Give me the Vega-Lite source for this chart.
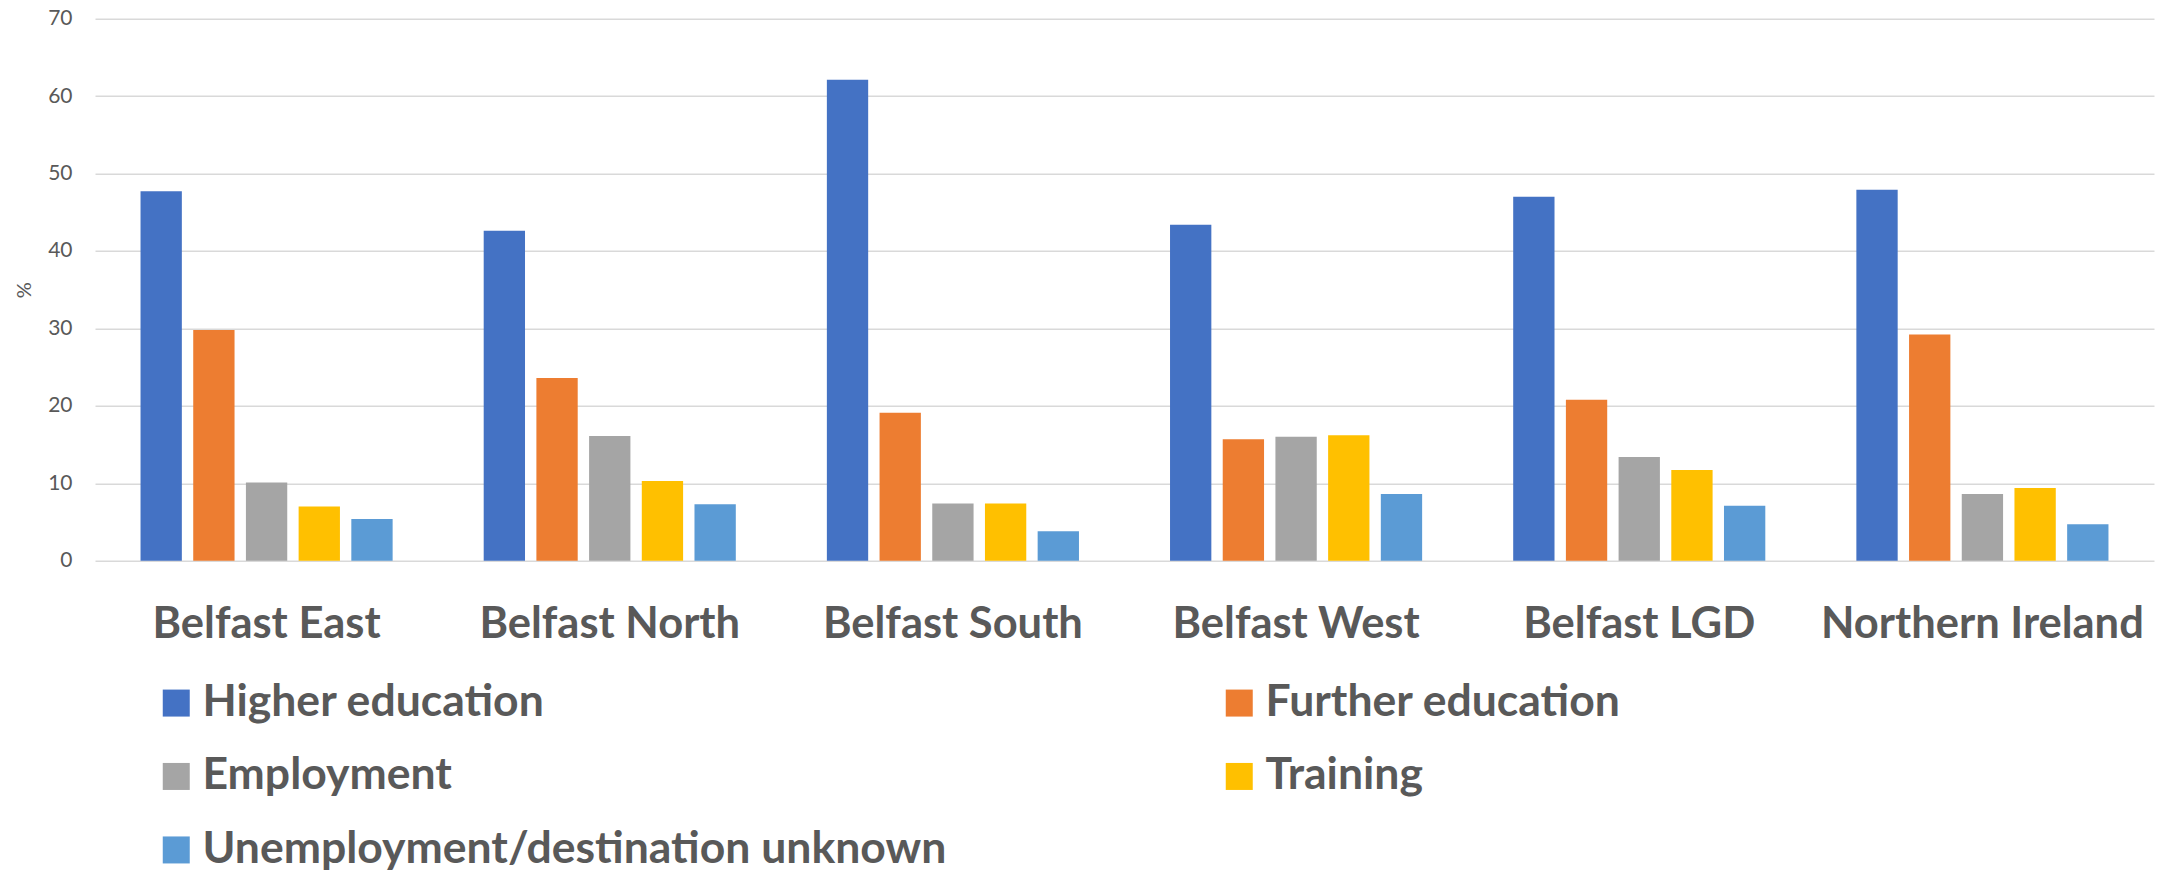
{
  "$schema": "https://vega.github.io/schema/vega-lite/v6.json",
  "width": 2059,
  "height": 542,
  "autosize": {"type": "none"},
  "padding": {"left": 95, "top": 18.7, "right": 18, "bottom": 311.3},
  "background": "white",
  "config": {
    "view": {"stroke": null},
    "font": "Lato"
  },
  "data": {
    "values": [
      {"area": "Belfast East", "destination": "Higher education", "pct": 47.7},
      {"area": "Belfast East", "destination": "Further education", "pct": 29.8},
      {"area": "Belfast East", "destination": "Employment", "pct": 10.1},
      {"area": "Belfast East", "destination": "Training", "pct": 7.0},
      {"area": "Belfast East", "destination": "Unemployment/destination unknown", "pct": 5.4},
      {"area": "Belfast North", "destination": "Higher education", "pct": 42.6},
      {"area": "Belfast North", "destination": "Further education", "pct": 23.6},
      {"area": "Belfast North", "destination": "Employment", "pct": 16.1},
      {"area": "Belfast North", "destination": "Training", "pct": 10.3},
      {"area": "Belfast North", "destination": "Unemployment/destination unknown", "pct": 7.3},
      {"area": "Belfast South", "destination": "Higher education", "pct": 62.1},
      {"area": "Belfast South", "destination": "Further education", "pct": 19.1},
      {"area": "Belfast South", "destination": "Employment", "pct": 7.4},
      {"area": "Belfast South", "destination": "Training", "pct": 7.4},
      {"area": "Belfast South", "destination": "Unemployment/destination unknown", "pct": 3.8},
      {"area": "Belfast West", "destination": "Higher education", "pct": 43.4},
      {"area": "Belfast West", "destination": "Further education", "pct": 15.7},
      {"area": "Belfast West", "destination": "Employment", "pct": 16.0},
      {"area": "Belfast West", "destination": "Training", "pct": 16.2},
      {"area": "Belfast West", "destination": "Unemployment/destination unknown", "pct": 8.6},
      {"area": "Belfast LGD", "destination": "Higher education", "pct": 47.0},
      {"area": "Belfast LGD", "destination": "Further education", "pct": 20.8},
      {"area": "Belfast LGD", "destination": "Employment", "pct": 13.4},
      {"area": "Belfast LGD", "destination": "Training", "pct": 11.7},
      {"area": "Belfast LGD", "destination": "Unemployment/destination unknown", "pct": 7.1},
      {"area": "Northern Ireland", "destination": "Higher education", "pct": 47.9},
      {"area": "Northern Ireland", "destination": "Further education", "pct": 29.2},
      {"area": "Northern Ireland", "destination": "Employment", "pct": 8.6},
      {"area": "Northern Ireland", "destination": "Training", "pct": 9.4},
      {"area": "Northern Ireland", "destination": "Unemployment/destination unknown", "pct": 4.7}
    ]
  },
  "mark": {"type": "bar"},
  "encoding": {
    "x": {
      "field": "area",
      "type": "nominal",
      "sort": ["Belfast East", "Belfast North", "Belfast South", "Belfast West", "Belfast LGD", "Northern Ireland"],
      "scale": {"paddingInner": 0, "paddingOuter": 0},
      "axis": {
        "title": null,
        "domain": false,
        "ticks": false,
        "tickSize": 0,
        "labelAngle": 0,
        "labelFont": "Lato",
        "labelFontWeight": "bold",
        "labelFontSize": 43.5,
        "labelColor": "#595959",
        "labelBaseline": "alphabetic",
        "labelPadding": 77,
        "labelLimit": 1000
      }
    },
    "xOffset": {
      "field": "destination",
      "type": "nominal",
      "sort": ["Higher education", "Further education", "Employment", "Training", "Unemployment/destination unknown"],
      "scale": {"paddingInner": 0.216, "paddingOuter": 0.864}
    },
    "y": {
      "field": "pct",
      "type": "quantitative",
      "scale": {"domain": [0, 70], "nice": false},
      "axis": {
        "title": "%",
        "titleFont": "Lato",
        "titleFontWeight": "normal",
        "titleFontSize": 20,
        "titleColor": "#595959",
        "titleAngle": -90,
        "titleX": -71,
        "titleY": 271,
        "titleAlign": "center",
        "titleBaseline": "middle",
        "values": [0, 10, 20, 30, 40, 50, 60, 70],
        "domain": false,
        "ticks": false,
        "tickSize": 0,
        "labelFont": "Lato",
        "labelFontSize": 21,
        "labelColor": "#595959",
        "labelPadding": 23,
        "grid": true,
        "gridColor": "#d9d9d9",
        "gridWidth": 1.5
      }
    },
    "color": {
      "field": "destination",
      "type": "nominal",
      "scale": {
        "domain": ["Higher education", "Further education", "Employment", "Training", "Unemployment/destination unknown"],
        "range": ["#4472C4", "#ED7D31", "#A5A5A5", "#FFC000", "#5B9BD5"]
      },
      "legend": {
        "title": null,
        "orient": "none",
        "legendX": 59,
        "legendY": 662,
        "direction": "horizontal",
        "columns": 2,
        "columnPadding": 270,
        "rowPadding": 28.5,
        "padding": 0,
        "symbolType": "square",
        "symbolSize": 729,
        "symbolStrokeWidth": 0,
        "symbolOpacity": 1,
        "labelFont": "Lato",
        "labelFontWeight": "bold",
        "labelFontSize": 44.5,
        "labelColor": "#595959",
        "labelOffset": 4,
        "labelLimit": 1200
      }
    }
  }
}
